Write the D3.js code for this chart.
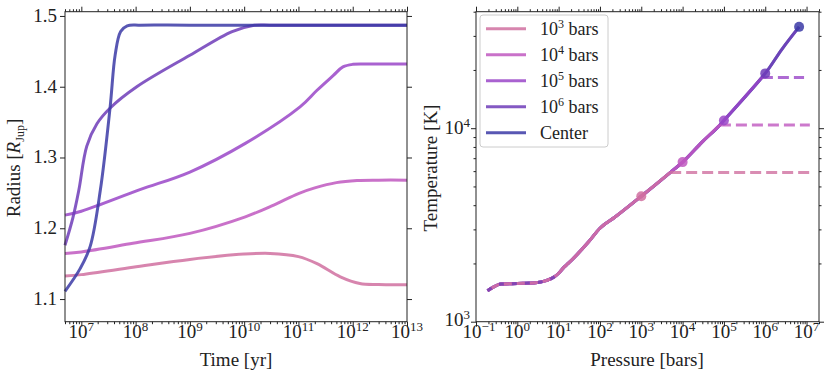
<!DOCTYPE html>
<html>
<head>
<meta charset="utf-8">
<script src="https://cdn.jsdelivr.net/npm/d3@7"></script>
<style>
  html, body { margin: 0; padding: 0; background: #fff; }
</style>
</head>
<body>
<svg id="stage" width="830" height="380" font-family="'Liberation Serif', 'Times New Roman', serif"></svg>
<script>
// ---- series labels / colours ----
const seriesNames  = ["1e3", "1e4", "1e5", "1e6", "center"];
const legendBase   = ["10", "10", "10", "10", "Center"];
const legendExp    = ["3", "4", "5", "6", null];
const seriesColors = ["#d070a0", "#bf58bf", "#9a46c8", "#6f3cb8", "#3b3aa6"];

// ---- left panel: radius vs time (yr) ----
const t_1e3 = [5e6, 1e7, 8.9e7, 1e9, 1e10, 3e10, 1e11, 2.2e11, 5.9e11, 1.35e12, 3e12, 1e13];
const R_1e3 = [1.1325, 1.1345, 1.1448, 1.1560, 1.1635, 1.1645, 1.1600, 1.1500, 1.1315, 1.1220, 1.1205, 1.1203];
const t_1e4 = [5e6, 1e7, 8.9e7, 1e9, 1.05e10, 3.5e10, 1e11, 2e11, 5e11, 1.2e12, 3e12, 1e13];
const R_1e4 = [1.1645, 1.1665, 1.1787, 1.1928, 1.2162, 1.2328, 1.2490, 1.2570, 1.2645, 1.2675, 1.2680, 1.2680];
const t_1e5 = [5e6, 1e7, 1.2e8, 1e9, 1.05e10, 1.07e11, 2.2e11, 4.4e11, 6.6e11, 1e12, 2e12, 1e13];
const R_1e5 = [1.2186, 1.2240, 1.2545, 1.2795, 1.3200, 1.3715, 1.3950, 1.4160, 1.4280, 1.4316, 1.4320, 1.4320];
const t_1e6 = [5e6, 7e6, 9e6, 1.26e7, 1.95e7, 3.4e7, 1.05e8, 1e9, 6e9, 1.45e10, 3e10, 1e11, 1e13];
const R_1e6 = [1.176, 1.215, 1.254, 1.316, 1.348, 1.370, 1.400, 1.4445, 1.4780, 1.4866, 1.487, 1.487, 1.487];
const t_cen = [5e6, 9.5e6, 1.45e7, 2.24e7, 3.4e7, 4.2e7, 5.3e7, 7e7, 1.2e8, 1e9, 1e13];
const R_cen = [1.111, 1.143, 1.174, 1.254, 1.372, 1.445, 1.478, 1.486, 1.487, 1.487, 1.487];
const timeSeries = [[t_1e3, R_1e3], [t_1e4, R_1e4], [t_1e5, R_1e5], [t_1e6, R_1e6], [t_cen, R_cen]];

// ---- right panel: temperature profile P (bars) -> T (K) ----
const profP = [0.19, 0.25, 0.4, 1, 2.8, 5, 7.9, 10, 13.7, 17, 52.6, 100, 232, 1000, 5000, 1e4, 3e4, 8e4, 1e5, 8.3e5, 1e6, 2.5e6, 6.6e6];
const profT = [1445, 1500, 1564, 1575, 1590, 1630, 1706, 1780, 1919, 2000, 2580, 3040, 3474, 4450, 5900, 6680, 8500, 10400, 10970, 18300, 19200, 25500, 33400];
const profEndP = [5000, 8e4, 8.3e5, 6.6e6, 6.6e6];      // where each model's profile stops
const isoEndP  = [1.2e7, 1.2e7, 8.7e6, null, null];     // end of dashed isotherm
const dotP = [1e3, 1e4, 1e5, 1e6, 6.6e6];
const dotT = [4450, 6680, 10970, 19200, 33400];

// ---- ticks ----
const timeTicks = [1e7, 1e8, 1e9, 1e10, 1e11, 1e12, 1e13];
const radiusTicks = [1.1, 1.2, 1.3, 1.4, 1.5];
const presTicks = [1e-1, 1, 1e1, 1e2, 1e3, 1e4, 1e5, 1e6, 1e7];
const tempTicks = [1e3, 1e4];

const svg = d3.select("#stage");
const TOP = 11.7, BOT = 321.7;
const FS = 19, SUP = 13;

const xL = d3.scaleLog().domain([5e6, 1e13]).range([65, 407]);
const yL = d3.scaleLinear().domain([1.068, 1.506]).range([BOT, TOP]);
const xR = d3.scaleLog().domain([0.1, 2e7]).range([476, 819]);
const yR = d3.scaleLog().domain([1000, 40000]).range([BOT, TOP]);

function minorLog(scale){
  const [a, b] = scale.domain();
  const out = [];
  for (let e = Math.floor(Math.log10(a)); e <= Math.ceil(Math.log10(b)); e++) {
    for (let m = 2; m <= 9; m++) {
      const v = m * Math.pow(10, e);
      if (v >= a && v <= b) out.push(v);
    }
  }
  return out;
}

function axisSet(x, y, xMaj, xMin, yMaj, yMin){
  const [x0, x1] = x.range(), [y0, y1] = y.range();
  const g = svg.append("g");
  const put = (axis, tx, ty) => {
    const a = g.append("g").attr("transform", `translate(${tx},${ty})`).call(axis);
    a.select(".domain").remove();
    a.selectAll("line").attr("stroke", "#222").attr("stroke-width", 1);
    a.selectAll("text").remove();
  };
  put(d3.axisBottom(x).tickValues(xMaj).tickSize(5), 0, y0);
  put(d3.axisTop(x).tickValues(xMaj).tickSize(5), 0, y1);
  put(d3.axisLeft(y).tickValues(yMaj).tickSize(5), x0, 0);
  put(d3.axisRight(y).tickValues(yMaj).tickSize(5), x1, 0);
  if (xMin) {
    put(d3.axisBottom(x).tickValues(xMin).tickSize(2.5), 0, y0);
    put(d3.axisTop(x).tickValues(xMin).tickSize(2.5), 0, y1);
  }
  if (yMin) {
    put(d3.axisLeft(y).tickValues(yMin).tickSize(2.5), x0, 0);
    put(d3.axisRight(y).tickValues(yMin).tickSize(2.5), x1, 0);
  }
  g.append("rect").attr("x", x0).attr("y", y1).attr("width", x1 - x0).attr("height", y0 - y1)
    .attr("fill", "none").attr("stroke", "#222").attr("stroke-width", 1);
}

function powLabel(x, y, exp, anchor){
  const t = svg.append("text").attr("x", x).attr("y", y)
    .attr("text-anchor", anchor).attr("font-size", FS).attr("fill", "#222");
  t.append("tspan").text("10");
  t.append("tspan").attr("font-size", SUP).attr("dy", -7).text(exp);
  return t;
}

// ---- left panel ----
const gL = svg.append("g");
const lineL = d3.line().x(d => xL(d[0])).y(d => yL(d[1])).curve(d3.curveCatmullRom.alpha(0.5));
timeSeries.forEach(([t, R], i) => {
  gL.append("path").datum(t.map((v, k) => [v, R[k]]))
    .attr("d", lineL).attr("fill", "none")
    .attr("stroke", seriesColors[i]).attr("stroke-opacity", 0.85)
    .attr("stroke-width", 3);
});
axisSet(xL, yL, timeTicks, minorLog(xL), radiusTicks, null);
timeTicks.forEach(v => powLabel(xL(v), 338, String(Math.round(Math.log10(v))), "middle"));
radiusTicks.forEach(v => svg.append("text").attr("x", 57).attr("y", yL(v) + 6)
  .attr("text-anchor", "end").attr("font-size", FS).attr("fill", "#222").text(v.toFixed(1)));
svg.append("text").attr("x", 236).attr("y", 366).attr("text-anchor", "middle")
  .attr("font-size", FS).attr("fill", "#222").text("Time [yr]");
const yt = svg.append("text").attr("transform", "translate(20,168) rotate(-90)")
  .attr("text-anchor", "middle").attr("font-size", FS).attr("fill", "#222");
yt.append("tspan").text("Radius [");
yt.append("tspan").attr("font-style", "italic").text("R");
yt.append("tspan").attr("font-size", 12).attr("dy", 4).text("Jup");
yt.append("tspan").attr("dy", -4).text("]");

// ---- right panel ----
const gR = svg.append("g");
const lineR = d3.line().x(d => xR(d[0])).y(d => yR(d[1])).curve(d3.curveMonotoneX);
const profile = profP.map((p, k) => [p, profT[k]]);
for (let i = seriesNames.length - 1; i >= 0; i--) {
  const pts = profile.filter(d => d[0] <= profEndP[i]);
  gR.append("path").datum(pts).attr("d", lineR).attr("fill", "none")
    .attr("stroke", seriesColors[i]).attr("stroke-opacity", 0.8).attr("stroke-width", 3);
  if (isoEndP[i]) {
    const last = pts[pts.length - 1];
    gR.append("path").datum([last, [isoEndP[i], last[1]]]).attr("d", d3.line().x(d => xR(d[0])).y(d => yR(d[1])))
      .attr("fill", "none").attr("stroke", seriesColors[i]).attr("stroke-opacity", 0.8)
      .attr("stroke-width", 3).attr("stroke-dasharray", "11,5");
  }
}
// low-pressure overlap: the shallow part shows mixed dashes
gR.append("path").datum(profile.filter(d => d[0] <= 10)).attr("d", lineR).attr("fill", "none")
  .attr("stroke", seriesColors[3]).attr("stroke-opacity", 0.8).attr("stroke-width", 3)
  .attr("stroke-dasharray", "5,8");
dotP.forEach((p, i) => {
  gR.append("circle").attr("cx", xR(p)).attr("cy", yR(dotT[i])).attr("r", 5)
    .attr("fill", seriesColors[i]).attr("fill-opacity", 0.85);
});
axisSet(xR, yR, presTicks, minorLog(xR), tempTicks, minorLog(yR).filter(v => v !== 1e3 && v !== 1e4));
presTicks.forEach(v => {
  const e = Math.round(Math.log10(v));
  powLabel(xR(v) + (e < 0 ? 3 : 0), 338, e < 0 ? "\u2212" + (-e) : String(e), "middle");
});
tempTicks.forEach(v => powLabel(470, yR(v) + (v === 1e3 ? 4 : 6), String(Math.round(Math.log10(v))), "end"));
svg.append("text").attr("x", 647).attr("y", 366).attr("text-anchor", "middle")
  .attr("font-size", FS).attr("fill", "#222").text("Pressure [bars]");
svg.append("text").attr("transform", "translate(437,168) rotate(-90)")
  .attr("text-anchor", "middle").attr("font-size", FS).attr("fill", "#222").text("Temperature [K]");

// ---- legend ----
const lg = svg.append("g");
lg.append("rect").attr("x", 480).attr("y", 15).attr("width", 128).attr("height", 132).attr("rx", 3)
  .attr("fill", "#fff").attr("fill-opacity", 0.8).attr("stroke", "#ccc").attr("stroke-width", 1);
seriesNames.forEach((s, i) => {
  const cy = 28.7 + i * 26;
  lg.append("line").attr("x1", 486).attr("x2", 526).attr("y1", cy).attr("y2", cy)
    .attr("stroke", seriesColors[i]).attr("stroke-opacity", 0.85).attr("stroke-width", 3);
  const t = lg.append("text").attr("x", 540).attr("y", cy + 6).attr("font-size", 18).attr("fill", "#222");
  if (legendExp[i]) {
    t.append("tspan").text(legendBase[i]);
    t.append("tspan").attr("font-size", 12).attr("dy", -7).text(legendExp[i]);
    t.append("tspan").attr("dy", 7).text(" bars");
  } else {
    t.text(legendBase[i]);
  }
});
</script>
</body>
</html>
